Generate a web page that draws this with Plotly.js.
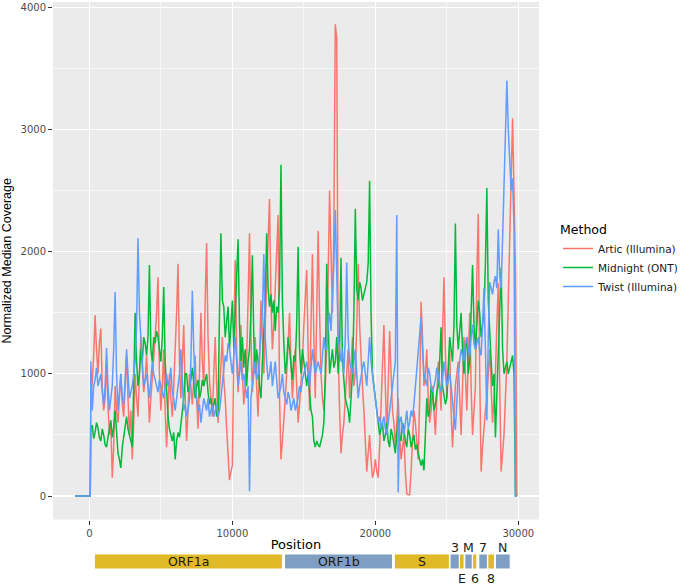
<!DOCTYPE html>
<html><head><meta charset="utf-8">
<script src="https://cdn.plot.ly/plotly-3.0.1.min.js"></script>
<style>html,body{margin:0;padding:0;background:#fff}</style>
</head><body><div id="chart" style="width:685px;height:585px"></div>
<script>
// Genome position (bp)
const positions = [-1000, 60,
  100, 200, 300, 400, 500, 600, 700, 800, 900, 1000, 1100, 1200, 1300, 1400, 1500, 1600, 1700, 1800, 1900, 2000,
  2100, 2200, 2300, 2400, 2500, 2600, 2700, 2800, 2900, 3000, 3100, 3200, 3300, 3400, 3500, 3600, 3700, 3800, 3900, 4000,
  4100, 4200, 4300, 4400, 4500, 4600, 4700, 4800, 4900, 5000, 5100, 5200, 5300, 5400, 5500, 5600, 5700, 5800, 5900, 6000,
  6100, 6200, 6300, 6400, 6500, 6600, 6700, 6800, 6900, 7000, 7100, 7200, 7300, 7400, 7500, 7600, 7700, 7800, 7900, 8000,
  8100, 8200, 8300, 8400, 8500, 8600, 8700, 8800, 8900, 9000, 9100, 9200, 9300, 9400, 9500, 9600, 9700, 9800, 9900, 10000,
  10100, 10200, 10300, 10400, 10500, 10600, 10700, 10800, 10900, 11000, 11100, 11200, 11300, 11400, 11500, 11600, 11700, 11800, 11900, 12000,
  12100, 12200, 12300, 12400, 12500, 12600, 12700, 12800, 12900, 13000, 13100, 13200, 13300, 13400, 13500, 13600, 13700, 13800, 13900, 14000,
  14100, 14200, 14300, 14400, 14500, 14600, 14700, 14800, 14900, 15000, 15100, 15200, 15300, 15400, 15500, 15600, 15700, 15800, 15900, 16000,
  16100, 16200, 16300, 16400, 16500, 16600, 16700, 16800, 16900, 17000, 17100, 17200, 17300, 17400, 17500, 17600, 17700, 17800, 17900, 18000,
  18100, 18200, 18300, 18400, 18500, 18600, 18700, 18800, 18900, 19000, 19100, 19200, 19300, 19400, 19500, 19600, 19700, 19800, 19900, 20000,
  20100, 20200, 20300, 20400, 20500, 20600, 20700, 20800, 20900, 21000, 21100, 21200, 21300, 21400, 21500, 21600, 21700, 21800, 21900, 22000,
  22100, 22200, 22300, 22400, 22500, 22600, 22700, 22800, 22900, 23000, 23100, 23200, 23300, 23400, 23500, 23600, 23700, 23800, 23900, 24000,
  24100, 24200, 24300, 24400, 24500, 24600, 24700, 24800, 24900, 25000, 25100, 25200, 25300, 25400, 25500, 25600, 25700, 25800, 25900, 26000,
  26100, 26200, 26300, 26400, 26500, 26600, 26700, 26800, 26900, 27000, 27100, 27200, 27300, 27400, 27500, 27600, 27700, 27800, 27900, 28000,
  28100, 28200, 28300, 28400, 28500, 28600, 28700, 28800, 28900, 29000, 29100, 29200, 29300, 29400, 29500, 29600, 29700, 29800, 29900];

const artic = [0, 0,
  850, 930, 1150, 1480, 1200, 1000, 1250, 1370, 900, 700, 800, 1100, 750, 500, 600, 150, 400, 900, 700, 600,
  800, 1000, 750, 650, 900, 1150, 800, 500, 700, 300, 600, 1000, 800, 650, 1000, 1300, 1050, 850, 950, 1150,
  900, 600, 800, 950, 1100, 1300, 1500, 1790, 1000, 700, 900, 1200, 700, 400, 700, 1000, 800, 650, 900, 1150,
  1500, 1900, 1100, 800, 1100, 1400, 800, 450, 700, 1000, 900, 750, 950, 1150, 800, 550, 1000, 1500, 1100, 900,
  1600, 2070, 1300, 950, 800, 650, 1000, 1300, 900, 600, 850, 1100, 1300, 950, 800, 550, 300, 130, 200, 250,
  1200, 1930, 1200, 850, 1100, 1400, 1000, 750, 900, 1100, 1600, 2150, 1300, 850, 1100, 1300, 900, 650, 1100, 1600,
  1300, 1000, 1400, 1800, 2200, 2430, 1600, 1200, 1400, 1700, 2100, 2300, 800, 300, 450, 600, 800, 1000, 1200, 1500,
  1100, 800, 1000, 1200, 900, 600, 750, 900, 1100, 1400, 1600, 1850, 1200, 700, 1400, 1980, 1300, 800, 1500, 2170,
  1500, 1000, 800, 700, 900, 1200, 1800, 2500, 2000, 1500, 2200, 3860, 3750, 1200, 700, 350, 500, 600, 800, 1000,
  1200, 800, 1100, 1300, 900, 1000, 1400, 1900, 1400, 1100, 900, 700, 400, 200, 350, 500, 300, 150, 200, 300,
  200, 150, 400, 700, 1100, 1400, 900, 500, 900, 1350, 1000, 700, 600, 400, 600, 800, 500, 300, 400, 500,
  200, 20, 10, 10, 200, 400, 700, 600, 450, 300, 800, 1590, 1300, 900, 1000, 1200, 800, 600, 700, 900,
  700, 500, 800, 1100, 900, 700, 1300, 1790, 1200, 800, 1000, 1200, 700, 400, 650, 900, 1000, 1100, 800, 500,
  900, 1300, 1000, 700, 1100, 1500, 900, 500, 700, 900, 1800, 2310, 1000, 200, 400, 600, 700, 800, 1000, 1200,
  900, 600, 800, 1000, 1400, 1740, 900, 200, 350, 500, 800, 1100, 1600, 2000, 2600, 3090, 2400, 1850, 0];

const midnight = [0, 0,
  550, 580, 470, 520, 600, 560, 480, 450, 550, 500, 420, 400, 480, 550, 620, 480, 560, 700, 500, 350,
  300, 230, 400, 500, 600, 650, 550, 500, 450, 400, 900, 1500, 1100, 900, 1000, 1200, 1100, 1300, 1250, 1150,
  1300, 1890, 1200, 1100, 1300, 1250, 1350, 1300, 1200, 1100, 1300, 1710, 1100, 800, 650, 550, 500, 450, 520, 300,
  450, 520, 480, 600, 700, 800, 1000, 1000, 850, 900, 950, 1050, 900, 800, 900, 950, 800, 850, 950, 900,
  950, 1000, 850, 750, 800, 700, 750, 800, 650, 700, 1500, 2150, 1600, 1550, 1300, 1450, 1550, 1200, 1400, 1600,
  1200, 1500, 1700, 2100, 1400, 1100, 1300, 1050, 1200, 900, 1100, 1200, 1500, 1970, 1300, 1000, 1200, 1100, 900, 800,
  1100, 1300, 1600, 2150, 1700, 1550, 1650, 1500, 1600, 1350, 1550, 1500, 1700, 2710, 1600, 1250, 1000, 1100, 1300, 1200,
  1050, 950, 1150, 1100, 1400, 2040, 1200, 1000, 1200, 1100, 950, 900, 1000, 800, 700, 650, 450, 400, 450, 420,
  400, 450, 500, 600, 1000, 1900, 1300, 1000, 1100, 1200, 1050, 1100, 1300, 1000, 1200, 1950, 1100, 900, 800, 750,
  700, 600, 800, 1000, 1500, 2350, 1700, 1600, 1750, 1700, 1600, 1650, 1700, 1750, 1900, 2580, 1500, 1000, 900, 800,
  700, 650, 500, 550, 600, 450, 500, 600, 450, 400, 550, 500, 400, 350, 500, 650, 500, 450, 600, 550,
  450, 400, 550, 500, 400, 450, 500, 380, 420, 350, 300, 250, 300, 210, 500, 800, 650, 700, 900, 850,
  700, 750, 850, 900, 1100, 1380, 900, 800, 750, 800, 1000, 1300, 1200, 1100, 1400, 2230, 1400, 1200, 1350, 1500,
  1200, 1000, 1200, 1300, 1000, 1100, 1500, 1890, 1400, 1200, 1400, 1600, 1500, 1300, 1400, 1500, 1900, 2520, 1600, 1300,
  1100, 900, 1000, 480, 800, 1200, 1400, 1870, 1200, 1000, 1050, 1100, 1000, 1050, 1100, 1150, 1000, 0, 0];

const twist = [0, 0,
  1100, 700, 900, 950, 1050, 900, 950, 1000, 850, 750, 900, 1210, 900, 700, 800, 900, 1200, 1670, 1000, 700,
  850, 1000, 800, 750, 950, 1200, 1000, 800, 850, 900, 1000, 1100, 1400, 2110, 1500, 1300, 1000, 900, 950, 1000,
  900, 800, 950, 1100, 1000, 950, 900, 850, 950, 900, 850, 800, 900, 1000, 900, 950, 1050, 850, 800, 700,
  800, 900, 1000, 1200, 900, 700, 750, 650, 700, 800, 1100, 1680, 1200, 900, 800, 700, 750, 600, 700, 800,
  750, 700, 800, 650, 700, 750, 650, 700, 750, 650, 700, 800, 900, 1000, 1150, 1100, 1250, 1200, 1100, 1000,
  1150, 1300, 1100, 900, 1000, 1100, 950, 1000, 900, 800, 900, 40, 800, 900, 1050, 1100, 950, 1000, 1150, 1300,
  1500, 1980, 1300, 1100, 950, 1000, 1100, 900, 1000, 1100, 950, 800, 850, 900, 1000, 850, 800, 750, 850, 800,
  700, 750, 800, 700, 750, 800, 900, 850, 950, 1000, 1050, 1100, 1000, 900, 1050, 1200, 1100, 1000, 1050, 1100,
  1050, 1000, 1150, 1300, 1200, 1200, 1400, 1500, 1350, 1600, 1900, 2340, 1700, 1300, 1200, 1100, 1200, 1000, 1300, 1910,
  1300, 1100, 1050, 1000, 1100, 1200, 1000, 800, 900, 1000, 1050, 1100, 1000, 900, 1100, 1300, 1100, 1000, 900, 800,
  700, 600, 650, 550, 600, 650, 550, 500, 600, 700, 800, 900, 1000, 1100, 2300, 30, 600, 650, 550, 500,
  600, 700, 550, 600, 700, 650, 750, 900, 1000, 1200, 1300, 1465, 1200, 1000, 950, 900, 1050, 1000, 900, 850,
  900, 950, 1050, 1000, 900, 850, 950, 1100, 1000, 900, 950, 1000, 900, 800, 650, 540, 800, 1000, 1100, 1200,
  1150, 1100, 1250, 1300, 1200, 1150, 1300, 1400, 1250, 1200, 1250, 1300, 1200, 1150, 1400, 1700, 1200, 620, 1300, 1750,
  1700, 1650, 1750, 1800, 1700, 2180, 1800, 1700, 2100, 2500, 3000, 3400, 3000, 2800, 2500, 2600, 2200, 0, 0];

const seriesNames = ['Artic (Illumina)', 'Midnight (ONT)', 'Twist (Illumina)'];

// Genome annotation
const geneNames = ['ORF1a', 'ORF1b', 'S', '3', 'E', 'M', '6', '7', '8', 'N'];
const geneStart = [350, 13650, 21330, 25230, 25880, 26260, 26800, 27240, 27870, 28400];
const geneEnd   = [13500, 21200, 25180, 25880, 26210, 26780, 27100, 27840, 28330, 29430];

const xTicks = [0, 10000, 20000, 30000];
const yTicks = [0, 1000, 2000, 3000, 4000];

// ---- styling ----
const lineColors = ['#F8766D', '#00BA38', '#619CFF'];
const GOLD = '#E0BA26', STEEL = '#7F9EC4';
const XR = [-2545, 31448];

const data = [artic, midnight, twist].map((ys, i) => ({
  type: 'scatter', mode: 'lines', x: positions, y: ys, name: seriesNames[i],
  line: {color: lineColors[i], width: 1.5}, xaxis: 'x', yaxis: 'y'
}));

data.push({
  type: 'bar', orientation: 'h', xaxis: 'x2', yaxis: 'y2',
  base: geneStart, x: geneEnd.map((e, i) => e - geneStart[i]),
  y: geneNames.map(() => 0.5), width: 1,
  marker: {color: geneNames.map((_, i) => i % 2 ? STEEL : GOLD), line: {color: 'white', width: 1}},
  showlegend: false, hoverinfo: 'skip'
});

const annotations = geneNames.map((g, i) => {
  const mid = (geneStart[i] + geneEnd[i]) / 2;
  let y = 0.5, ya = 'middle', ys = 0;
  if (i >= 3) { if ((i - 3) % 2 === 0) { y = 1; ya = 'bottom'; ys = -3; } else { y = 0; ya = 'top'; } }
  return {x: mid, y: y, xref: 'x2', yref: 'y2', text: g, showarrow: false, yanchor: ya, yshift: ys,
          font: {family: 'DejaVu Sans, sans-serif', size: 12.5, color: '#1A1A1A'}};
});

const layout = {
  width: 685, height: 585,
  margin: {l: 53, r: 145, t: 2, b: 15},
  paper_bgcolor: 'white', plot_bgcolor: 'white',
  font: {family: 'DejaVu Sans, sans-serif', color: '#4D4D4D'},
  showlegend: true,
  xaxis: {
    domain: [0, 1], anchor: 'y', range: XR, tickvals: xTicks, tickformat: 'd',
    showgrid: true, gridcolor: 'white', gridwidth: 1.2, zeroline: false, showline: false,
    minor: {dtick: 5000, tick0: 0, showgrid: true, gridcolor: 'white', gridwidth: 0.6},
    ticks: 'outside', ticklen: 4, tickcolor: '#333333', tickwidth: 1,
    tickfont: {size: 10, color: '#4D4D4D'},
    title: {text: 'Position', font: {size: 13, color: '#000000'}, standoff: 2}
  },
  yaxis: {
    domain: [0.0889, 1], anchor: 'x', range: [-192, 4042], tickvals: yTicks, tickformat: 'd',
    showgrid: true, gridcolor: 'white', gridwidth: 1.2, zeroline: false, showline: false,
    minor: {dtick: 500, tick0: 0, showgrid: true, gridcolor: 'white', gridwidth: 0.6},
    ticks: 'outside', ticklen: 4, tickcolor: '#333333', tickwidth: 1,
    tickfont: {size: 10, color: '#4D4D4D'},
    title: {text: 'Normalized Median Coverage', font: {family: 'Liberation Sans, Arial, sans-serif', size: 12.5, color: '#000000'}, standoff: 8}
  },
  xaxis2: {domain: [0, 1], anchor: 'y2', range: XR, visible: false, showgrid: false, zeroline: false},
  yaxis2: {domain: [0.0018, 0.0282], anchor: 'x2', range: [0, 1], visible: false, showgrid: false, zeroline: false},
  shapes: [{type: 'rect', xref: 'x domain', yref: 'y domain', x0: 0, x1: 1, y0: 0, y1: 1,
            fillcolor: '#EBEBEB', line: {width: 0}, layer: 'below'}],
  annotations: annotations,
  legend: {
    x: 1.037, xanchor: 'left', y: 0.62, yanchor: 'top',
    bgcolor: 'rgba(0,0,0,0)', font: {size: 10.5, color: '#1A1A1A'},
    title: {text: 'Method', font: {size: 12.5, color: '#000000'}},
    tracegroupgap: 0
  },
  bargap: 0
};

Plotly.newPlot('chart', data, layout, {staticPlot: true, displayModeBar: false});
</script>
</body></html>
